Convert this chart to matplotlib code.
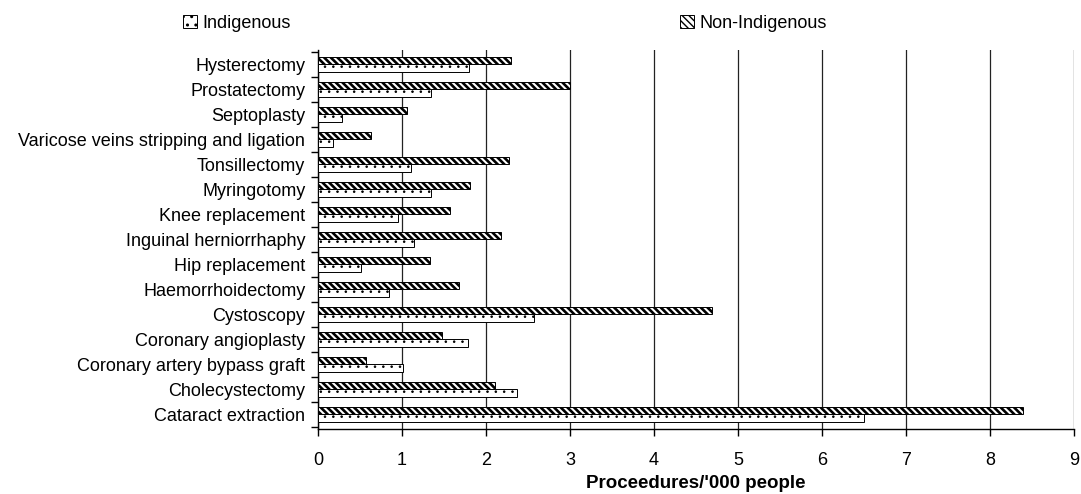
import numpy as np
import matplotlib
matplotlib.use("Agg")
import matplotlib.pyplot as plt

plt.rcParams['font.family'] = ['Liberation Sans', 'DejaVu Sans']

# categories from bottom to top
procedures = [
    "Cataract extraction",
    "Cholecystectomy",
    "Coronary artery bypass graft",
    "Coronary angioplasty",
    "Cystoscopy",
    "Haemorrhoidectomy",
    "Hip replacement",
    "Inguinal herniorrhaphy",
    "Knee replacement",
    "Myringotomy",
    "Tonsillectomy",
    "Varicose veins stripping and ligation",
    "Septoplasty",
    "Prostatectomy",
    "Hysterectomy",
]
indigenous = [6.50, 2.37, 1.01, 1.79, 2.57, 0.85, 0.51, 1.15, 0.96, 1.35, 1.11, 0.18, 0.29, 1.35, 1.80]
non_indigenous = [8.39, 2.11, 0.57, 1.48, 4.69, 1.68, 1.34, 2.18, 1.57, 1.81, 2.27, 0.63, 1.06, 3.00, 2.30]
x_ticks = [0, 1, 2, 3, 4, 5, 6, 7, 8, 9]

fig = plt.figure(figsize=(10.81, 4.94), dpi=100)
ax = fig.add_axes([0.294, 0.131, 0.6995, 0.768])

y = np.arange(len(procedures))
h = 0.29
with plt.rc_context({'hatch.linewidth': 0.6}):
    ax.barh(y - h / 2, indigenous, height=h, color='white', edgecolor='black',
            hatch='..', linewidth=0.7, label='Indigenous', zorder=3)
with plt.rc_context({'hatch.linewidth': 1.9}):
    ax.barh(y + h / 2, non_indigenous, height=h, color='white', edgecolor='black',
            hatch='\\\\\\\\\\', linewidth=0.7, label='Non-Indigenous', zorder=3)

ax.set_xlim(0, 9)
ax.set_ylim(-0.6, 14.575)
ax.set_xticks(x_ticks)
ax.set_yticks(y)
ax.set_yticklabels(procedures, fontsize=13)
ax.set_yticks(np.arange(-0.5, len(procedures), 1), minor=True)
ax.tick_params(axis='y', which='major', length=0, pad=9)
ax.tick_params(axis='y', which='minor', length=5, width=1, direction='out')
ax.tick_params(axis='x', length=5, width=1, labelsize=13, pad=11)
ax.grid(axis='x', color='#222222', linewidth=0.9, zorder=0)
ax.spines['top'].set_visible(False)
ax.spines['right'].set_visible(False)
ax.spines['left'].set_linewidth(1)
ax.spines['bottom'].set_linewidth(1)
ax.set_xlabel("Proceedures/'000 people", fontsize=13.5, fontweight='bold', labelpad=5)

fig.legend(loc='center left', bbox_to_anchor=(183 / 1081, 1 - 23 / 494), ncol=2,
           frameon=False, fontsize=13, handlelength=0.75, handleheight=0.75,
           handletextpad=0.3, columnspacing=21.6, borderpad=0, borderaxespad=0)

fig.savefig("out.png", dpi=100)
